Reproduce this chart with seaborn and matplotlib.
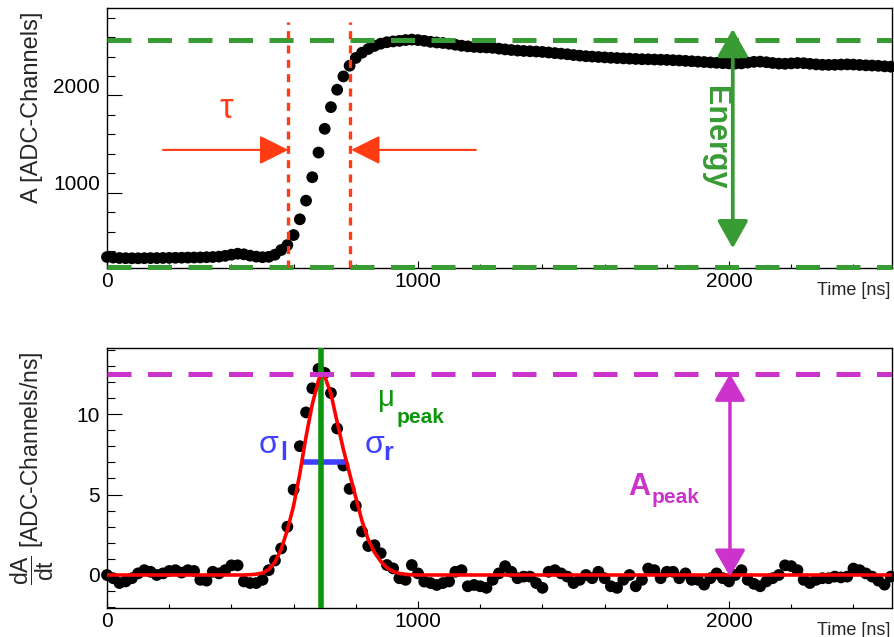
import numpy as np
import matplotlib
matplotlib.use('Agg')
import matplotlib.pyplot as plt
import matplotlib.transforms as mtransforms
from matplotlib.ticker import MultipleLocator
import seaborn as sns

# sampled trace, one sample every 20 ns
time_ns = np.arange(0, 2540, 20)

# top panel: raw amplitude [ADC channels]
amplitude = [
    338, 332, 328, 326, 325, 325, 326, 327, 327, 328, 329, 330, 331, 332,
    333, 334, 336, 338, 342, 350, 362, 372, 366, 352, 342, 336, 340, 362,
    410, 461, 564, 726, 918, 1159, 1413, 1657, 1880, 2059, 2196, 2306, 2386,
    2440, 2478, 2510, 2533, 2548, 2556, 2562, 2570, 2575, 2570,
    2562, 2552, 2545, 2540, 2532, 2522, 2512, 2505, 2500, 2496, 2494, 2490,
    2482, 2474, 2468, 2462, 2458, 2455, 2452, 2448, 2442, 2436, 2430, 2424, 2416,
    2410, 2404, 2400, 2396, 2392, 2388, 2385, 2382, 2379, 2376, 2373, 2372,
    2370, 2368, 2366, 2363, 2360, 2356, 2352, 2348, 2344, 2340, 2336, 2332, 2330,
    2328, 2330, 2338, 2346, 2348, 2342, 2334, 2328, 2326, 2330, 2334, 2332,
    2326, 2320, 2316, 2315, 2316, 2318, 2320, 2318, 2314, 2310, 2308, 2305,
    2300, 2296,
]

# bottom panel: derivative [ADC channels / ns]
derivative = [
    0.0, -0.2, -0.5, -0.4, -0.2, 0.1, 0.3, 0.2, 0.0, 0.1, 0.25, 0.3, 0.15,
    0.3, 0.25, -0.3, -0.35, 0.2, 0.1, 0.3, 0.6, 0.6, -0.4,
    -0.5, -0.5, -0.3, 0.3, 0.9, 1.65, 3.0, 5.3, 8.0, 10.1, 11.6, 12.8, 12.55,
    11.3, 9.1, 6.8, 5.35, 4.3, 2.7, 1.8, 1.85, 1.35, 0.62, 0.41, -0.2, -0.3,
    0.62, 0.1,
    -0.41, -0.5, -0.62, -0.5, -0.4,
    0.2, 0.3, -0.7, -0.62, -0.7, -0.8, -0.3, 0.1, 0.55, 0.2, -0.2, -0.1, -0.1,
    -0.5, -0.8, 0.2, 0.3, 0.1, -0.1, -0.5,
    -0.3, 0.0, -0.2, 0.2, -0.2, -0.7, -0.8, -0.3, 0.0, -0.7, -0.3, 0.4, 0.3,
    -0.2, 0.2, 0.2, -0.2, 0.1, -0.3, -0.3, -0.6, -0.2, 0.1, -0.2, -0.4,
    0.0, 0.3, -0.3, -0.55, -0.7, -0.4, -0.2, 0.0, 0.6, 0.55, 0.3, -0.3, -0.5,
    -0.3, -0.2, -0.2, -0.1, -0.15, -0.1, 0.4, 0.3, 0.1, -0.1, -0.35, -0.6, -0.1,
]

# fitted peak (red curve)
fit_t = [0, 440, 460, 480, 500, 520, 540, 560, 580, 600, 620, 640, 660, 680,
         688, 700, 720, 740, 760, 780, 800, 820, 840, 860, 880, 900, 920, 940,
         960, 980, 1000, 2520]
fit_v = [0.0, 0.0, 0.02, 0.05, 0.12, 0.35, 0.8, 1.6, 2.8, 4.3, 6.3, 8.6, 10.6,
         12.1, 12.5, 12.35, 11.25, 9.5, 7.8, 6.3, 4.8, 3.35, 2.2, 1.4, 0.85,
         0.45, 0.22, 0.1, 0.04, 0.01, 0.0, 0.0]

# annotation values
energy_low, energy_high = 240, 2570
tau_start, tau_stop = 583, 781
mu_peak = 688
a_peak = 12.5
sigma_level = 7.0
sigma_left, sigma_right = 630, 773

GREEN = '#389b34'
MU_GREEN = '#0c960c'
RED = '#ff3c14'
MAG = '#cc33cc'
BLUE = '#3f3fff'

sns.set_theme(style='white')
plt.rcParams['font.family'] = ['Liberation Sans', 'DejaVu Sans']

W, H = 894, 637
fig = plt.figure(figsize=(W / 100, H / 100), dpi=100)
ax1 = fig.add_axes([107 / W, 1 - 268 / H, (891.7 - 107) / W, 260 / H])
ax2 = fig.add_axes([107 / W, 1 - 608 / H, (891.7 - 107) / W, 260 / H])


def style_axes(ax):
    for s in ax.spines.values():
        s.set_linewidth(1.0)
        s.set_color('black')
    ax.tick_params(axis='both', which='both', direction='in', bottom=True, left=True,
                   top=False, right=False, colors='black', labelsize=15, width=0.8)
    ax.tick_params(axis='y', which='major', length=11, pad=5)
    ax.tick_params(axis='y', which='minor', length=6)
    ax.tick_params(axis='x', which='major', length=5, pad=3)
    ax.tick_params(axis='x', which='minor', length=3)
    ax.xaxis.set_major_locator(MultipleLocator(1000))
    ax.xaxis.set_minor_locator(MultipleLocator(200))
    ax.set_xlim(0, 2523)
    ax.set_xlabel('')
    ax.set_ylabel('')
    ax.text(0.998, -0.085, 'Time [ns]', transform=ax.transAxes, ha='right',
            va='center', fontsize=13)


dash = (0, (4.8, 3.3))
dot_size = 72

# ---------------- top panel ----------------
sns.scatterplot(x=time_ns, y=amplitude, ax=ax1, color='black', s=dot_size,
                edgecolor='none', zorder=2, clip_on=False)
ax1.axhline(energy_high, color=GREEN, lw=3.6, ls=dash, zorder=3)
ax1.axhline(energy_low, color=GREEN, lw=3.6, ls=dash, zorder=3, clip_on=False)
ax1.vlines([tau_start, tau_stop], 225, 2760, colors=RED, lw=2.4,
           linestyles=(0, (2.4, 1.9)), zorder=3)
ax1.annotate('', xy=(tau_start, 1440), xytext=(180, 1440),
             arrowprops=dict(arrowstyle='-|>,head_length=1.8,head_width=0.9',
                             color=RED, lw=1.5, shrinkA=0, shrinkB=0,
                             mutation_scale=10))
ax1.annotate('', xy=(tau_stop + 4, 1440), xytext=(1186, 1440),
             arrowprops=dict(arrowstyle='-|>,head_length=1.8,head_width=0.9',
                             color=RED, lw=1.5, shrinkA=0, shrinkB=0,
                             mutation_scale=10))
ax1.text(383, 1863, 'τ', color=RED, fontsize=25, ha='center', va='center')
ax1.annotate('', xy=(2012, 2685), xytext=(2012, 427),
             arrowprops=dict(arrowstyle='<|-|>,head_length=1.7,head_width=0.95',
                             color=GREEN, lw=2.7, shrinkA=0, shrinkB=0,
                             mutation_scale=10), zorder=4)
ax1.text(1955, 1569, 'Energy', rotation=270, ha='center', va='center',
         color=GREEN, fontsize=22, fontweight='bold')
style_axes(ax1)
ax1.set_ylim(225, 2900)
ax1.yaxis.set_major_locator(MultipleLocator(1000))
ax1.yaxis.set_minor_locator(MultipleLocator(200))
# tick labels sit a bit above their ticks in the original
shift = mtransforms.ScaledTranslation(0, 0.10, fig.dpi_scale_trans)
for lab in ax1.get_yticklabels():
    lab.set_transform(lab.get_transform() + shift)

# ---------------- bottom panel ----------------
sns.scatterplot(x=time_ns, y=derivative, ax=ax2, color='black', s=dot_size,
                edgecolor='none', zorder=2, clip_on=False)
ax2.hlines(sigma_level, sigma_left, sigma_right, colors=BLUE, lw=4, zorder=3)
ax2.axvline(mu_peak, color=MU_GREEN, lw=4, zorder=4)
sns.lineplot(x=fit_t, y=fit_v, ax=ax2, color='red', lw=2.6, zorder=5)
ax2.axhline(a_peak, color=MAG, lw=3.6, ls=dash, zorder=6)
ax2.annotate('', xy=(2003, a_peak), xytext=(2003, -0.1),
             arrowprops=dict(arrowstyle='<|-|>,head_length=1.65,head_width=0.95',
                             color=MAG, lw=2.5, shrinkA=0, shrinkB=0,
                             mutation_scale=10), zorder=7)
ax2.text(872, 10.47, 'μ', color=MU_GREEN, fontsize=21, ha='left', va='baseline')
ax2.text(931, 9.44, 'peak', color=MU_GREEN, fontsize=15, fontweight='bold',
         ha='left', va='baseline')
ax2.text(486, 7.57, 'σ', color=BLUE, fontsize=23, ha='left', va='baseline')
ax2.text(556, 7.16, 'l', color=BLUE, fontsize=18, fontweight='bold',
         ha='left', va='baseline')
ax2.text(827, 7.57, 'σ', color=BLUE, fontsize=23, ha='left', va='baseline')
ax2.text(889, 7.16, 'r', color=BLUE, fontsize=18, fontweight='bold',
         ha='left', va='baseline')
ax2.text(1676, 4.98, 'A', color=MAG, fontsize=22, fontweight='bold',
         ha='left', va='baseline')
ax2.text(1751, 4.46, 'peak', color=MAG, fontsize=15, fontweight='bold',
         ha='left', va='baseline')
style_axes(ax2)
ax2.set_ylim(-2.05, 14.1)
ax2.yaxis.set_major_locator(MultipleLocator(5))
ax2.yaxis.set_minor_locator(MultipleLocator(1))

# axis titles
plt.rcParams['mathtext.fontset'] = 'custom'
plt.rcParams['mathtext.rm'] = 'Liberation Sans'
plt.rcParams['mathtext.it'] = 'Liberation Sans'
plt.rcParams['mathtext.bf'] = 'Liberation Sans:bold'
fig.text(32.5 / W, 1 - 12 / H, 'A [ADC-Channels]', rotation=90, ha='center',
         va='top', fontsize=17)
fig.text(32.5 / W, 1 - 352 / H, r'$\dfrac{dA}{dt}$ [ADC-Channels/ns]',
         rotation=90, ha='center', va='top', fontsize=16.5)

fig.savefig('out.png', dpi=100)
